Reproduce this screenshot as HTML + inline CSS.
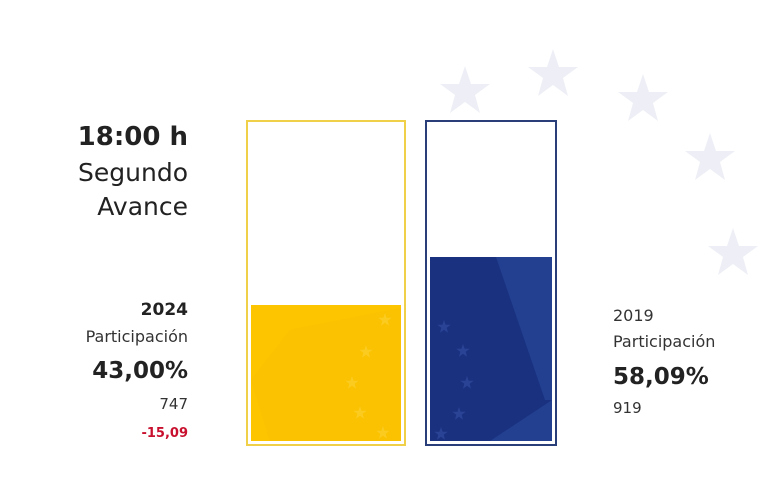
<!DOCTYPE html>
<html><head><meta charset="utf-8"><style>
body{margin:0;width:768px;height:499px;background:#fff;position:relative;overflow:hidden;font-family:"DejaVu Sans","Liberation Sans",sans-serif;color:#222}
.t{position:absolute;white-space:nowrap;line-height:1}
.r{right:580px;text-align:right}
.l{left:613px}
</style></head><body>
<svg width="768" height="499" style="position:absolute;left:0;top:0">
<defs><polygon id="st" points="0,-26 6,-8 25,-8 10,3 15,21 0,10 -15,21 -10,3 -25,-8 -6,-8"/>
<polygon id="sm" points="0,-7 1.6,-2.2 6.7,-2.2 2.7,0.8 4,5.7 0,2.7 -4,5.7 -2.7,0.8 -6.7,-2.2 -1.6,-2.2"/></defs>
<g fill="#eeeff6">
<use href="#st" x="465" y="92"/><use href="#st" x="553" y="75"/><use href="#st" x="643" y="100"/><use href="#st" x="710" y="159"/><use href="#st" x="733" y="254"/>
</g>
<rect x="247" y="121" width="158" height="324" fill="#fff" stroke="#f0d048" stroke-width="2"/>
<rect x="251" y="305" width="150" height="136" fill="#fcc500"/>
<polygon points="251,380 290,330 401,308 401,441 270,441" fill="#f8c000" opacity="0.6"/>
<g fill="#fccb20"><use href="#sm" x="385" y="320"/><use href="#sm" x="366" y="352"/><use href="#sm" x="352" y="383"/><use href="#sm" x="360" y="413"/><use href="#sm" x="383" y="433"/></g>
<rect x="426" y="121" width="130" height="324" fill="#fff" stroke="#2a3f7a" stroke-width="2"/>
<rect x="430" y="257" width="122" height="184" fill="#1a3180"/>
<polygon points="496,257 552,257 552,400 545,400" fill="#22408f"/>
<polygon points="552,400 552,441 490,441" fill="#22408f"/>
<g fill="#2a4394"><use href="#sm" x="444" y="327"/><use href="#sm" x="463" y="351"/><use href="#sm" x="467" y="383"/><use href="#sm" x="459" y="414"/><use href="#sm" x="441" y="434"/></g>
</svg>
<div class="t r" style="top:124px;font-size:26px;font-weight:bold">18:00 h</div>
<div class="t r" style="top:160px;font-size:25px">Segundo</div>
<div class="t r" style="top:194px;font-size:25px">Avance</div>
<div class="t r" style="top:302px;font-size:17px;font-weight:bold">2024</div>
<div class="t r" style="top:329px;font-size:16px;color:#333">Participación</div>
<div class="t r" style="top:360px;font-size:23px;font-weight:bold">43,00%</div>
<div class="t r" style="top:397px;font-size:15px;color:#333">747</div>
<div class="t r" style="top:427px;font-size:13px;color:#c8102e;font-weight:bold">-15,09</div>
<div class="t l" style="top:308px;font-size:16px;color:#333">2019</div>
<div class="t l" style="top:334px;font-size:16px;color:#333">Participación</div>
<div class="t l" style="top:366px;font-size:23px;font-weight:bold">58,09%</div>
<div class="t l" style="top:401px;font-size:15px;color:#333">919</div>
</body></html>
